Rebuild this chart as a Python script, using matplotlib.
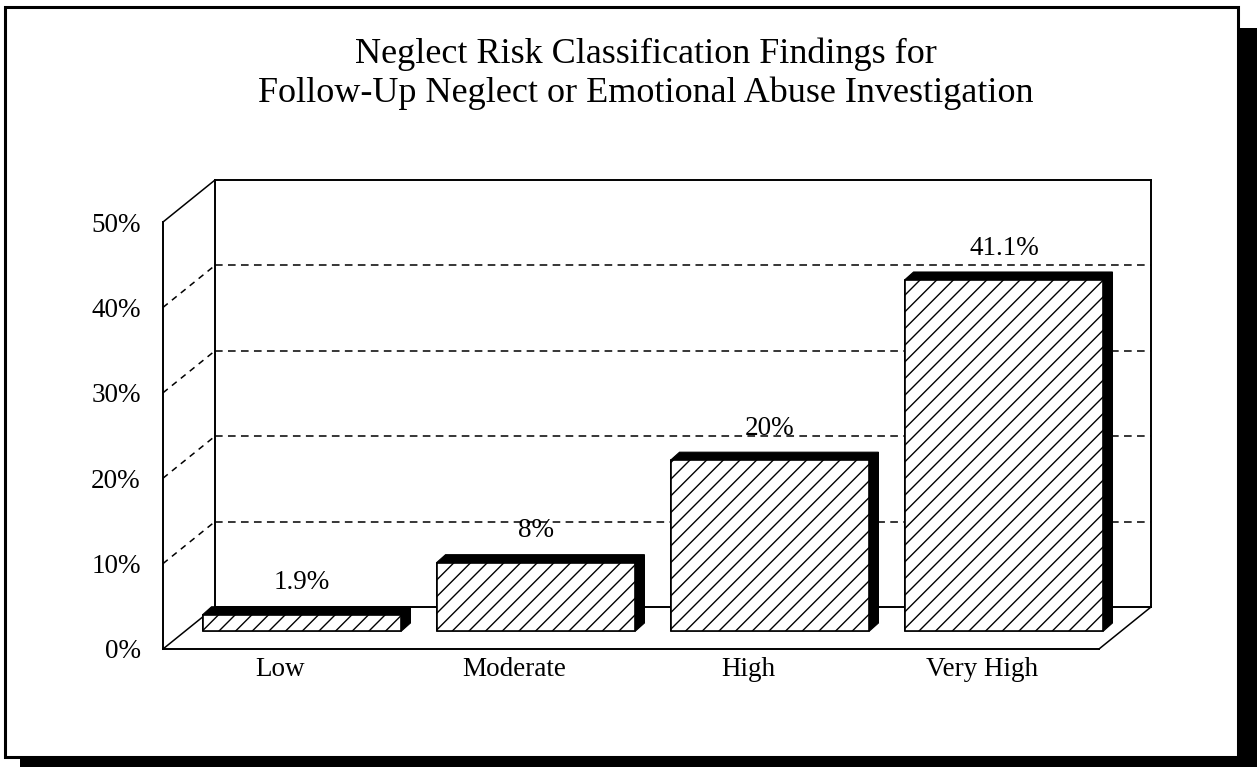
import matplotlib
matplotlib.use("Agg")
import matplotlib.pyplot as plt
from matplotlib.patches import Rectangle, Polygon
from matplotlib.lines import Line2D
from matplotlib.transforms import offset_copy, IdentityTransform

# data
categories = ["Low", "Moderate", "High", "Very High"]
values = [1.9, 8, 20, 41.1]
value_labels = ["1.9%", "8%", "20%", "41.1%"]
yticks = [0, 10, 20, 30, 40, 50]
ytick_labels = ["0%", "10%", "20%", "30%", "40%", "50%"]
title_lines = ["Neglect Risk Classification Findings for",
               "Follow-Up Neglect or Emotional Abuse Investigation"]

W, H, DPI = 1257, 767, 100
plt.rcParams["font.family"] = ["Liberation Serif", "DejaVu Serif"]
FS = 19.5


def fx(px):
    return px / W


def fy(py):
    # py counted from the top of the image
    return 1 - py / H


fig = plt.figure(figsize=(W / DPI, H / DPI), dpi=DPI)
fig.patch.set_facecolor("white")

# frame + drop shadow
fig.add_artist(Rectangle((fx(20), fy(790)), 1300 / W, (790 - 28) / H,
                         transform=fig.transFigure, facecolor="black",
                         edgecolor="none", zorder=-2))
fig.add_artist(Rectangle((fx(5), fy(757)), 1233 / W, 750 / H,
                         transform=fig.transFigure, facecolor="white",
                         edgecolor="black", lw=2.2, zorder=-1))

for k, line in enumerate(title_lines):
    fig.text(fx(646), fy(63 + 39 * k), line, ha="center", va="baseline",
             fontsize=26)

# front plane of the 3d box
ax = fig.add_axes([163 / W, (H - 649) / H, 936 / W, 427 / H])
ax.autoscale(False)
ax.set_xlim(-0.5, len(categories) - 0.5)
ax.set_ylim(0, 50)
ax.patch.set_visible(False)
for s in ax.spines.values():
    s.set_visible(False)

# depth offsets in pixels
back = offset_copy(ax.transData, fig=fig, x=52, y=42, units="dots")
bar_plane = offset_copy(ax.transData, fig=fig, x=22, y=18, units="dots")
x0, x1 = -0.5, len(categories) - 0.5

# back wall
ax.plot([x0, x1], [50, 50], color="black", lw=1.4, transform=back, clip_on=False, zorder=1)
ax.plot([x0, x0], [0, 50], color="black", lw=1.4, transform=back, clip_on=False, zorder=1)
ax.plot([x1, x1], [0, 50], color="black", lw=1.4, transform=back, clip_on=False, zorder=1)
ax.plot([x0, x1], [0, 0], color="black", lw=1.4, transform=back, clip_on=False, zorder=1)
for v in yticks[1:-1]:
    ax.plot([x0, x1], [v, v], color="black", lw=1.1, ls=(0, (5, 3.5)),
            transform=back, clip_on=False, zorder=1)

# left wall and floor
ax.plot([x0, x0], [0, 50], color="black", lw=1.4, clip_on=False, zorder=1)
ax.plot([x0, x1], [0, 0], color="black", lw=1.4, clip_on=False, zorder=1)
for xx, v in [(x0, t) for t in yticks] + [(x1, 0)]:
    px, py = ax.transData.transform((xx, v))
    ls = "-" if v in (0, 50) else (0, (4, 3.5))
    ax.add_line(Line2D([px, px + 52], [py, py + 42], color="black", lw=1.1,
                       ls=ls, transform=IdentityTransform(), clip_on=False,
                       zorder=1))

# bars: black depth then hatched front face
bw = 0.85
ddx = 9 * (x1 - x0) / ax.bbox.width
ddy = 8 * 50 / ax.bbox.height
for i, v in enumerate(values):
    a, b = i - bw / 2, i + bw / 2
    ax.add_patch(Polygon([(a, 0), (a, v), (a + ddx, v + ddy), (b + ddx, v + ddy),
                          (b + ddx, ddy), (b, 0)], closed=True,
                         facecolor="black", edgecolor="black", lw=0.8,
                         transform=bar_plane, clip_on=False, zorder=2))
ax.bar(range(len(values)), values, width=bw, facecolor="white",
       edgecolor="black", hatch="//", lw=1.2, transform=bar_plane,
       clip_on=False, zorder=3)

lab_t = offset_copy(ax.transData, fig=fig, x=22, y=18 + 32, units="dots")
for i, (v, s) in enumerate(zip(values, value_labels)):
    ax.text(i, v, s, transform=lab_t, ha="center", va="center", fontsize=FS,
            zorder=4)

ax.set_xticks(range(len(categories)))
ax.set_xticklabels(categories, fontsize=FS)
ax.set_yticks(yticks)
ax.set_yticklabels(ytick_labels, fontsize=FS)
ax.tick_params(axis="x", length=0, pad=6)
ax.tick_params(axis="y", length=0, pad=16)

fig.savefig("out.png", dpi=DPI)
